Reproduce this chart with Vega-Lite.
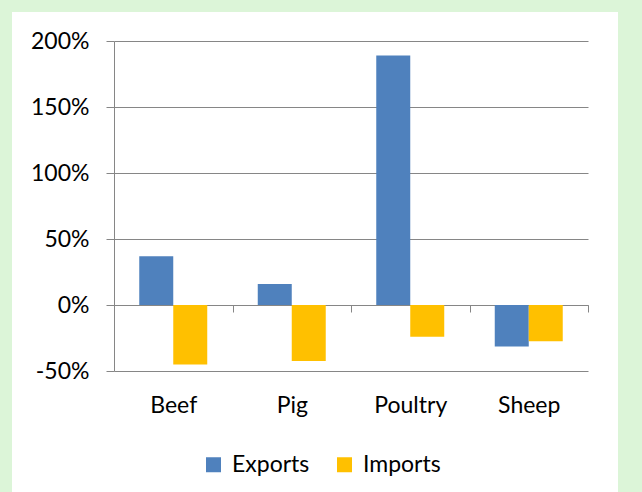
{
  "$schema": "https://vega.github.io/schema/vega-lite/v6.json",
  "width": 606,
  "height": 480,
  "autosize": {"type": "none"},
  "padding": {"left": 12, "top": 12, "right": 24, "bottom": 0},
  "background": "#dcf5d8",
  "config": {
    "view": {"fill": "white", "stroke": null},
    "font": "Lato",
    "axis": {"labelFont": "Lato", "labelColor": "#000000", "domainColor": "#868686", "tickColor": "#868686", "gridColor": "#868686", "domainWidth": 1, "tickWidth": 1, "gridWidth": 1}
  },
  "data": {
    "values": [
      {"meat": "Beef", "flow": "Exports", "change": 37},
      {"meat": "Beef", "flow": "Imports", "change": -45},
      {"meat": "Pig", "flow": "Exports", "change": 16},
      {"meat": "Pig", "flow": "Imports", "change": -42.5},
      {"meat": "Poultry", "flow": "Exports", "change": 189},
      {"meat": "Poultry", "flow": "Imports", "change": -24},
      {"meat": "Sheep", "flow": "Exports", "change": -31.5},
      {"meat": "Sheep", "flow": "Imports", "change": -27.5}
    ]
  },
  "mark": {"type": "bar"},
  "encoding": {
    "x": {
      "field": "meat",
      "type": "nominal",
      "sort": ["Beef", "Pig", "Poultry", "Sheep"],
      "scale": {"range": [102, 576], "paddingInner": 0, "paddingOuter": 0},
      "axis": {"title": null, "orient": "bottom", "offset": -187, "labelAngle": 0, "labelFontSize": 23, "labelPadding": 82, "tickSize": 7, "tickBand": "extent", "labelBaseline": "top"}
    },
    "xOffset": {"field": "flow", "type": "nominal", "sort": ["Exports", "Imports"], "scale": {"paddingInner": 0, "paddingOuter": 0.743}},
    "y": {
      "field": "change",
      "type": "quantitative",
      "scale": {"domain": [-50, 200], "range": [359, 29], "nice": false, "zero": true},
      "axis": {"title": null, "offset": -102, "values": [-50, 0, 50, 100, 150, 200], "labelExpr": "datum.value + '%'", "labelFontSize": 23, "tickSize": 8, "labelPadding": 17, "grid": true}
    },
    "color": {
      "field": "flow",
      "type": "nominal",
      "sort": ["Exports", "Imports"],
      "scale": {"domain": ["Exports", "Imports"], "range": ["#4f81bd", "#ffc000"]},
      "legend": {"title": null, "orient": "none", "direction": "horizontal", "legendX": 190, "legendY": 441, "symbolType": "square", "symbolSize": 225, "symbolStrokeWidth": 0, "labelFontSize": 23, "labelFont": "Lato", "labelColor": "#000000", "labelOffset": 7, "columnPadding": 23, "padding": 0}
    }
  }
}
